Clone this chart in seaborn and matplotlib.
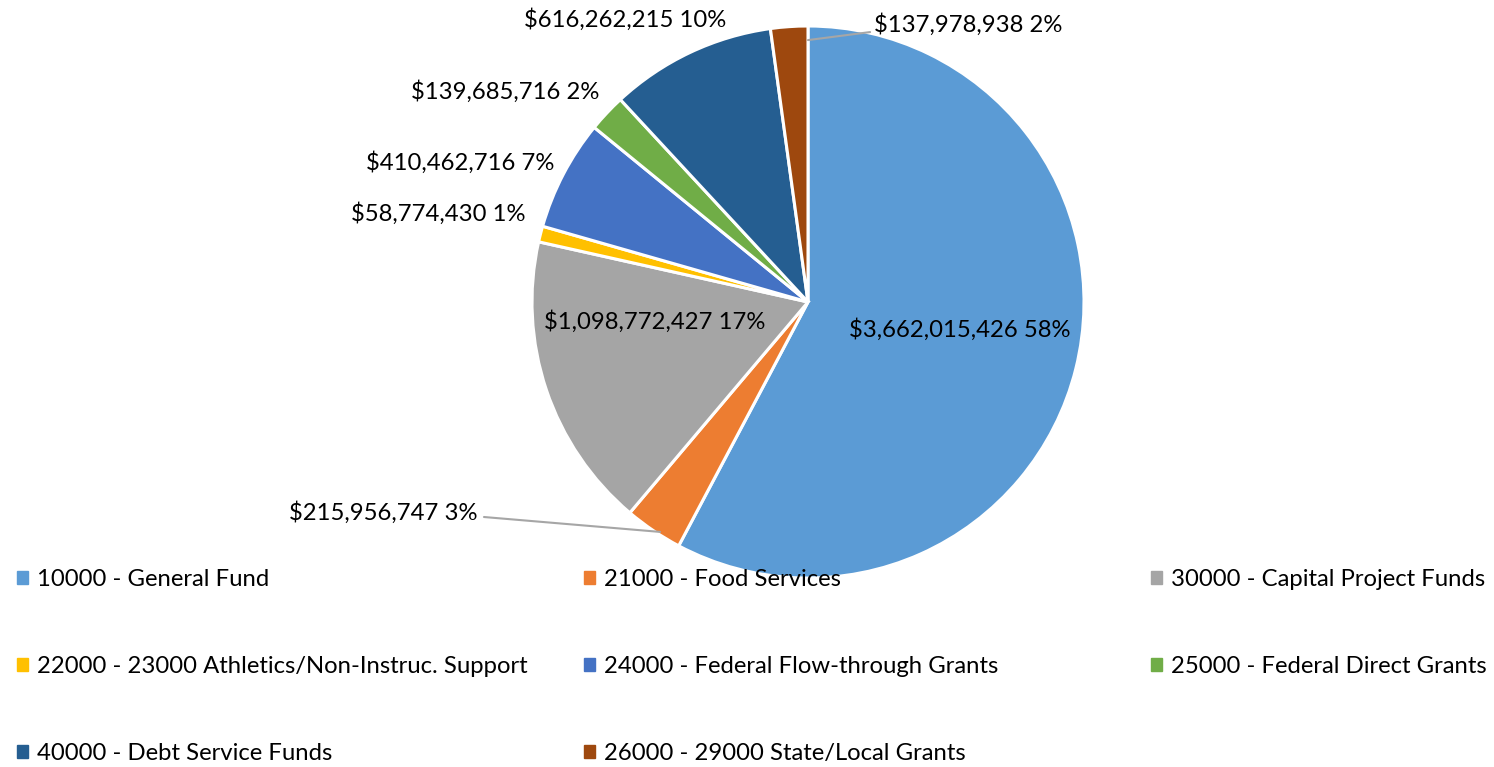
import matplotlib
matplotlib.use("Agg")
import matplotlib.pyplot as plt
import matplotlib.patches as mpatches
import seaborn as sns

# data, clockwise from 12 o'clock
funds = ["10000 - General Fund", "21000 - Food Services", "30000 - Capital Project Funds",
         "22000 - 23000 Athletics/Non-Instruc. Support", "24000 - Federal Flow-through Grants",
         "25000 - Federal Direct Grants", "40000 - Debt Service Funds", "26000 - 29000 State/Local Grants"]
amounts = [3662015426, 215956747, 1098772427, 58774430, 410462716, 139685716, 616262215, 137978938]
pct_shown = [58, 3, 17, 1, 7, 2, 10, 2]
colors = ["#5B9BD5", "#ED7D31", "#A5A5A5", "#FFC000", "#4472C4", "#70AD47", "#255E91", "#9E480E"]

# label placement (pie radius = 1)
label_pos = [(0.55, -0.10), (-1.196, -0.761), (-0.555, -0.072), (-1.34, 0.322),
             (-1.261, 0.504), (-1.098, 0.761), (-0.663, 1.022), (0.58, 1.007)]
label_ha = ["center", "right", "center", "center", "center", "center", "center", "center"]
leaders = {1: [(-1.174, -0.779), (-0.536, -0.833)], 7: [(0.0, 0.949), (0.225, 0.978)]}

sns.set_theme(style="white")
plt.rcParams['font.family'] = ['Lato', 'DejaVu Sans']
fs = 17.2

fig = plt.figure(figsize=(14.94, 7.67), dpi=100)
r = 276
ax = fig.add_axes([(808 - r) / 1494, (465 - r) / 767, 2 * r / 1494, 2 * r / 767])
wedges, _ = ax.pie(amounts, colors=colors, startangle=90, counterclock=False,
                   wedgeprops=dict(edgecolor="white", linewidth=2.2))
for w in wedges:
    w.set_clip_on(False)
ax.set_xlim(-1, 1)
ax.set_ylim(-1, 1)
ax.axis("off")

for i, (amt, p) in enumerate(zip(amounts, pct_shown)):
    x, y = label_pos[i]
    ax.text(x, y, f"${amt:,} {p}%", ha=label_ha[i], va="center", fontsize=fs,
            color="black", clip_on=False)

for i, pts in leaders.items():
    (x0, y0), (x1, y1) = pts
    ax.plot([x0, x1], [y0, y1], color="#A6A6A6", lw=1.5, clip_on=False)

# legend laid out in three columns
handles = [mpatches.Patch(color=c, label=f) for c, f in zip(colors, funds)]
cols = [[0, 3, 6], [1, 4, 7], [2, 5]]
col_x = [17, 584, 1151]
for cx, idx in zip(col_x, cols):
    leg = fig.legend([handles[k] for k in idx], [funds[k] for k in idx],
                     loc="upper left", bbox_to_anchor=(cx / 1494, 1 - 569 / 767),
                     frameon=False, fontsize=fs, labelcolor="black",
                     handlelength=0.44, handleheight=0.44,
                     handletextpad=0.4, labelspacing=2.76, borderpad=0, borderaxespad=0)

fig.savefig("out.png", dpi=100)
